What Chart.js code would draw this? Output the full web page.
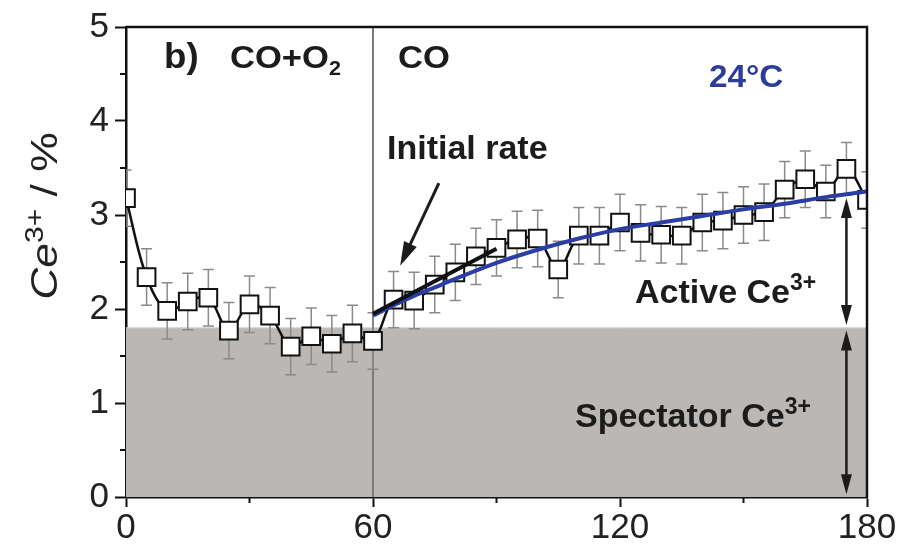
<!DOCTYPE html>
<html>
<head>
<meta charset="utf-8">
<script src="https://cdn.jsdelivr.net/npm/chart.js@4.4.1/dist/chart.umd.min.js"></script>
<style>
  html, body { margin: 0; padding: 0; background: #fff; }
  #wrap { width: 904px; height: 555px; }
</style>
</head>
<body>
<div id="wrap"><canvas id="ceChart" width="904" height="555"></canvas></div>
<script>
// Ce3+ fraction vs. time on stream (min), CO+O2 then CO at 24 °C
const timeMin = [0, 5, 10, 15, 20, 25, 30, 35, 40, 45, 50, 55, 60,
  65, 70, 75, 80, 85, 90, 95, 100, 105, 110, 115, 120,
  125, 130, 135, 140, 145, 150, 155, 160, 165, 170, 175, 180];
const ce3 = [3.18, 2.34, 1.98, 2.08, 2.12, 1.77, 2.05, 1.93, 1.60, 1.71, 1.63, 1.74, 1.66,
  2.10, 2.09, 2.26, 2.39, 2.56, 2.65, 2.74, 2.75, 2.42, 2.78, 2.78, 2.92,
  2.81, 2.79, 2.78, 2.92, 2.94, 3.00, 3.03, 3.27, 3.38, 3.25, 3.49, 3.16];
const ce3Err = [0.30, 0.30, 0.30, 0.30, 0.30, 0.30, 0.30, 0.30, 0.30, 0.30, 0.30, 0.30, 0.30,
  0.30, 0.30, 0.30, 0.30, 0.30, 0.30, 0.30, 0.30, 0.30, 0.30, 0.30, 0.30,
  0.30, 0.30, 0.30, 0.30, 0.30, 0.30, 0.30, 0.30, 0.30, 0.28, 0.28, 0.30];

// fitted curve in CO
const fitTime = [60, 65, 70, 75, 80, 90, 100, 110, 120, 130, 140, 150, 160, 170, 180];
const fitCe3 = [1.93, 2.04, 2.14, 2.23, 2.32, 2.49, 2.63, 2.75, 2.85, 2.92, 2.99, 3.06, 3.12, 3.19, 3.25];

// initial rate tangent
const rateTime = [60, 90];
const rateCe3 = [1.95, 2.64];

const spectatorLevel = 1.8;
const switchTime = 60;

const xTicks = [0, 60, 120, 180];
const xMinor = [30, 90, 150];
const yTicks = [0, 1, 2, 3, 4, 5];
const yMinor = [0.5, 1.5, 2.5, 3.5, 4.5];

const pts = (xs, ys) => xs.map((x, i) => ({ x: x, y: ys[i] }));

const FONT = '"Liberation Sans", Arial, Helvetica, sans-serif';
const INK = '#1c1c1c';

function arrowHead(ctx, x1, y1, x2, y2, len, w) {
  const a = Math.atan2(y2 - y1, x2 - x1);
  ctx.beginPath();
  ctx.moveTo(x2, y2);
  ctx.lineTo(x2 - len * Math.cos(a) + w / 2 * Math.sin(a), y2 - len * Math.sin(a) - w / 2 * Math.cos(a));
  ctx.lineTo(x2 - len * Math.cos(a) - w / 2 * Math.sin(a), y2 - len * Math.sin(a) + w / 2 * Math.cos(a));
  ctx.closePath();
  ctx.fill();
}

function arrow(ctx, x1, y1, x2, y2, both, len, w, lw) {
  const a = Math.atan2(y2 - y1, x2 - x1);
  ctx.lineWidth = lw;
  ctx.beginPath();
  ctx.moveTo(both ? x1 + len * 0.8 * Math.cos(a) : x1, both ? y1 + len * 0.8 * Math.sin(a) : y1);
  ctx.lineTo(x2 - len * 0.8 * Math.cos(a), y2 - len * 0.8 * Math.sin(a));
  ctx.stroke();
  arrowHead(ctx, x1, y1, x2, y2, len, w);
  if (both) arrowHead(ctx, x2, y2, x1, y1, len, w);
}

// text runs: [string, size, dy, style]
function runs(ctx, x, y, parts, sx) {
  ctx.save();
  ctx.translate(x, y);
  ctx.scale(sx || 1, 1);
  let cx = 0;
  parts.forEach(p => {
    ctx.font = (p[3] || 'bold') + ' ' + p[1] + 'px ' + FONT;
    ctx.fillText(p[0], cx, p[2] || 0);
    cx += ctx.measureText(p[0]).width;
  });
  ctx.restore();
  return cx * (sx || 1);
}

function runsWidth(ctx, parts) {
  let w = 0;
  parts.forEach(p => { ctx.font = (p[3] || 'bold') + ' ' + p[1] + 'px ' + FONT; w += ctx.measureText(p[0]).width; });
  return w;
}

const decor = {
  id: 'decor',
  beforeDatasetDraw(chart, args) {
    if (args.index !== 2) return;
    const ctx = chart.ctx, xs = chart.scales.x, ys = chart.scales.y;
    ctx.save();
    ctx.beginPath();
    ctx.rect(chart.chartArea.left, chart.chartArea.top, chart.chartArea.width, chart.chartArea.height);
    ctx.clip();
    ctx.strokeStyle = '#8a8a8a';
    ctx.lineWidth = 1.5;
    timeMin.forEach((t, i) => {
      const px = xs.getPixelForValue(t);
      const top = ys.getPixelForValue(ce3[i] + ce3Err[i]);
      const bot = ys.getPixelForValue(ce3[i] - ce3Err[i]);
      ctx.beginPath();
      ctx.moveTo(px, top); ctx.lineTo(px, bot);
      ctx.moveTo(px - 5.5, top); ctx.lineTo(px + 5.5, top);
      ctx.moveTo(px - 5.5, bot); ctx.lineTo(px + 5.5, bot);
      ctx.stroke();
    });
    ctx.restore();
  },
  afterDatasetsDraw(chart) {
    const ctx = chart.ctx, xs = chart.scales.x, ys = chart.scales.y, ca = chart.chartArea;
    ctx.save();

    // frame
    ctx.strokeStyle = '#111';
    ctx.lineWidth = 2.5;
    ctx.beginPath();
    ctx.moveTo(ca.left, ca.top); ctx.lineTo(ca.right, ca.top); ctx.lineTo(ca.right, ca.bottom);
    ctx.stroke();

    // minor ticks
    ctx.lineWidth = 2;
    ctx.beginPath();
    yMinor.forEach(v => {
      const py = ys.getPixelForValue(v);
      ctx.moveTo(ca.left - 6, py); ctx.lineTo(ca.left, py);
    });
    xMinor.forEach(v => {
      const px = xs.getPixelForValue(v);
      ctx.moveTo(px, ca.bottom); ctx.lineTo(px, ca.bottom + 6);
    });
    ctx.stroke();

    // arrows
    ctx.fillStyle = INK;
    ctx.strokeStyle = INK;
    arrow(ctx, xs.getPixelForValue(76), ys.getPixelForValue(3.34),
      xs.getPixelForValue(66.6), ys.getPixelForValue(2.46), false, 24, 14, 3);
    const ax = xs.getPixelForValue(175);
    arrow(ctx, ax, ys.getPixelForValue(3.18), ax, ys.getPixelForValue(1.83), true, 20, 11, 2.5);
    arrow(ctx, ax, ys.getPixelForValue(1.77), ax, ys.getPixelForValue(0.03), true, 20, 11, 2.5);

    // labels
    ctx.textBaseline = 'alphabetic';
    ctx.textAlign = 'left';
    runs(ctx, 164, 68, [['b)', 35]], 1.05);
    runs(ctx, 230, 68, [['CO+O', 32], ['2', 20, 7]], 1.08);
    runs(ctx, 398, 68, [['CO', 32]], 1.08);
    ctx.fillStyle = '#2d3c98';
    runs(ctx, 709, 87, [['24°C', 32]], 1.04);
    ctx.fillStyle = INK;
    runs(ctx, 387, 159, [['Initial rate', 34]]);
    runs(ctx, 635, 303, [['Active Ce', 34], ['3+', 23, -13]]);
    runs(ctx, 575, 427, [['Spectator Ce', 34], ['3+', 23, -13]]);

    // y axis title
    ctx.save();
    ctx.translate(57, 216);
    ctx.rotate(-Math.PI / 2);
    const parts = [['Ce', 37, 0, 'italic'], ['3+', 25, -14, 'normal'], [' / %', 37, 0, 'normal']];
    const stretch = 1.2;
    const w = runsWidth(ctx, parts) * stretch;
    ctx.fillStyle = '#222';
    runs(ctx, -w / 2, 0, parts, stretch);
    ctx.restore();

    ctx.restore();
  }
};

const tickFont = { family: FONT, size: 35 };

new Chart(document.getElementById('ceChart'), {
  type: 'line',
  data: {
    datasets: [
      { // initial rate tangent
        data: pts(rateTime, rateCe3), borderColor: '#111', borderWidth: 4,
        pointRadius: 0, order: 0
      },
      { // fit in CO
        data: pts(fitTime, fitCe3), borderColor: '#2b3ea6', borderWidth: 4,
        pointRadius: 0, tension: 0.4, cubicInterpolationMode: 'monotone', order: 1
      },
      { // measured Ce3+
        data: pts(timeMin, ce3), borderColor: '#111', borderWidth: 2.5, tension: 0.35,
        pointStyle: 'rect', pointRadius: 12.5, pointBackgroundColor: '#fff',
        pointBorderColor: '#111', pointBorderWidth: 2, clip: 0, order: 2
      },
      { // gas switch
        data: [{ x: switchTime, y: 0 }, { x: switchTime, y: 5 }], borderColor: '#7a7a7a',
        borderWidth: 2, pointRadius: 0, order: 3
      },
      { // spectator band
        data: [{ x: 0, y: spectatorLevel }, { x: 180, y: spectatorLevel }], borderColor: '#d6d4d2',
        borderWidth: 1, pointRadius: 0, fill: 'origin', backgroundColor: '#bab7b5', order: 4
      }
    ]
  },
  options: {
    responsive: false,
    animation: false,
    events: [],
    layout: { padding: { top: 25, right: 37, left: 0, bottom: 0 } },
    plugins: { legend: { display: false }, tooltip: { enabled: false } },
    scales: {
      x: {
        type: 'linear', min: 0, max: 180,
        afterBuildTicks: s => { s.ticks = xTicks.map(v => ({ value: v })); },
        afterFit: s => { s.height = 58; },
        grid: { drawOnChartArea: false, tickLength: 10, tickColor: '#111', tickWidth: 2 },
        border: { color: '#111', width: 2.5 },
        ticks: { font: tickFont, color: '#222', padding: 0, maxRotation: 0, autoSkip: false }
      },
      y: {
        min: 0, max: 5,
        afterBuildTicks: s => { s.ticks = yTicks.map(v => ({ value: v })); },
        afterFit: s => { s.width = 126; },
        grid: { drawOnChartArea: false, tickLength: 11, tickColor: '#111', tickWidth: 2 },
        border: { color: '#111', width: 2.5 },
        ticks: { font: tickFont, color: '#222', padding: 6, autoSkip: false }
      }
    }
  },
  plugins: [decor]
});
</script>
</body>
</html>
